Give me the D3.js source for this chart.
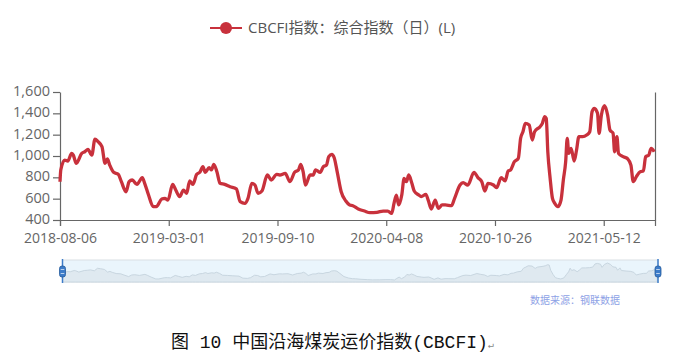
<!DOCTYPE html>
<html>
<head>
<meta charset="utf-8">
<script src="https://cdn.jsdelivr.net/npm/d3@7"></script>
<style>
  body { margin: 0; background: #fff; }
  text { font-family: "Open Sans", "Noto Sans CJK SC", sans-serif; }
</style>
</head>
<body>
<div id="chart"></div>
<script>
// Trading-day index of each sampled point, and the CBCFI value read there
const dayIndex = [0, 1, 6, 10, 15, 17, 21, 28, 32, 36, 41, 45, 49, 54, 58, 61, 64, 69, 75, 79,
  85, 89, 93, 99, 106, 109, 114, 120, 124, 131, 135, 139, 145, 149, 154, 159, 163, 167, 171, 176,
  180, 184, 187, 192, 195, 198, 202, 206, 212, 219, 227, 232, 238, 242, 247, 251, 255, 260, 267, 272,
  279, 283, 290, 296, 302, 307, 310, 313, 316, 322, 326, 329, 335, 339, 343, 346, 350, 353, 357, 362,
  368, 373, 377, 384, 392, 399, 408, 416, 422, 427, 430, 433, 436, 440, 443, 446, 449, 453, 456, 462,
  465, 471, 474, 478, 483, 487, 492, 496, 504, 508, 515, 519, 525, 533, 538, 543, 547, 551, 558, 562,
  568, 573, 577, 580, 585, 590, 593, 596, 599, 604, 608, 611, 618, 621, 624, 626, 628, 631, 634, 637,
  641, 645, 648, 651, 653, 655, 658, 662, 665, 668, 673, 678, 682, 685, 688, 692, 694, 697, 701, 705,
  708, 712, 714, 717, 719, 725, 731, 735, 738, 742, 747, 751, 754, 758, 761, 765];
const cbcfi = [759, 869, 962, 953, 1025, 1010, 931, 1025, 1040, 1062, 1009, 1159, 1134, 1087, 931, 972, 915, 847, 828, 759,
  665, 759, 775, 734, 797, 744, 634, 525, 525, 597, 603, 587, 734, 681, 619, 681, 650, 766, 734, 828,
  847, 900, 847, 891, 869, 922, 853, 744, 734, 712, 691, 572, 556, 603, 744, 728, 650, 672, 822, 775,
  828, 822, 837, 759, 847, 869, 922, 853, 728, 822, 822, 869, 847, 900, 915, 994, 1016, 984, 847, 665,
  578, 541, 534, 503, 484, 469, 472, 484, 484, 462, 556, 634, 541, 634, 791, 759, 822, 744, 672, 634,
  619, 640, 587, 503, 587, 509, 541, 541, 534, 603, 728, 750, 728, 847, 797, 759, 672, 744, 728, 703,
  797, 766, 859, 869, 947, 978, 1166, 1228, 1306, 1290, 1150, 1228, 1275, 1306, 1369, 1353, 1040, 791, 603, 556,
  525, 587, 775, 947, 1166, 1025, 1072, 953, 1056, 1181, 1181, 1197, 1228, 1416, 1447, 1400, 1213, 1384, 1472, 1384,
  1244, 1213, 1040, 1181, 1025, 994, 972, 915, 759, 806, 853, 859, 994, 1009, 1072, 1040];
const lastDay = 766;

// x-axis labels and the trading-day index they sit on
const tickDays = [0, 140, 280, 420, 560, 700];
const tickLabels = ["2018-08-06", "2019-03-01", "2019-09-10", "2020-04-08", "2020-10-26", "2021-05-12"];
const yTicks = [400, 600, 800, 1000, 1200, 1400, 1600];

const legendLabel = "CBCFI指数：综合指数（日）(L)";
const sourceLabel = "数据来源：钢联数据";
const captionLabel = "图 10 中国沿海煤炭运价指数(CBCFI)";

const data = dayIndex.map((d, i) => ({ day: d, value: cbcfi[i] }));

const W = 681, H = 359;
const plot = { left: 60, right: 655, top: 92, bottom: 220 };
const red = "#c8313c";

const svg = d3.select("#chart").append("svg")
  .attr("width", W)
  .attr("height", H);

// Scales
const x = d3.scaleLinear().domain([0, lastDay]).range([plot.left, plot.right]);
const y = d3.scaleLinear().domain([400, 1600]).range([plot.bottom, plot.top]);

// Axes
const yAxis = svg.append("g")
  .attr("transform", `translate(${plot.left},0)`)
  .call(d3.axisLeft(y).tickValues(yTicks).tickFormat(d3.format(",")).tickSize(7).tickSizeOuter(0).tickPadding(3));
yAxis.selectAll(".tick text").style("font-size", "14.5px").attr("dy", "0.25em");

svg.append("g")
  .attr("transform", `translate(${plot.right},0)`)
  .call(d3.axisRight(y).tickValues([]).tickSizeOuter(0));

const xAxis = svg.append("g")
  .attr("transform", `translate(0,${plot.bottom})`)
  .call(d3.axisBottom(x).tickValues(tickDays).tickFormat((d, i) => tickLabels[i]).tickSize(6).tickSizeOuter(6).tickPadding(7));
xAxis.selectAll(".tick text").style("font-size", "14px");

svg.selectAll(".domain, .tick line").attr("stroke", "#666").attr("stroke-width", 1.2);
svg.selectAll(".tick text").attr("fill", "#666");

// The line
const line = d3.line().x(d => x(d.day)).y(d => y(d.value)).curve(d3.curveMonotoneX);
svg.append("path")
  .datum(data)
  .attr("fill", "none")
  .attr("stroke", red)
  .attr("stroke-width", 3.3)
  .attr("stroke-linejoin", "round")
  .attr("d", line);

// Legend
const legend = svg.append("g");
legend.append("line")
  .attr("x1", 210).attr("x2", 242).attr("y1", 28).attr("y2", 28)
  .attr("stroke", red).attr("stroke-width", 2);
legend.append("circle")
  .attr("cx", 226).attr("cy", 28).attr("r", 6)
  .attr("fill", red);
legend.append("text")
  .attr("x", 248).attr("y", 28)
  .attr("dy", "0.35em")
  .attr("fill", "#555")
  .style("font-size", "15px")
  .text(legendLabel);

// Data zoom slider with data shadow
const slider = { left: 62.5, right: 658, top: 260, bottom: 282 };
const sx = d3.scaleLinear().domain([0, lastDay]).range([slider.left, slider.right]);
const sy = d3.scaleLinear().domain(d3.extent(cbcfi)).range([slider.bottom - 2, slider.top + 3]);

svg.append("rect")
  .attr("x", slider.left).attr("y", slider.top)
  .attr("width", slider.right - slider.left).attr("height", slider.bottom - slider.top)
  .attr("fill", "#eaf5fc").attr("stroke", "#d9dfe4");

svg.append("path")
  .datum(data)
  .attr("fill", "#dfe9f0")
  .attr("stroke", "#c8d6e0")
  .attr("stroke-width", 1)
  .attr("d", d3.area().x(d => sx(d.day)).y0(slider.bottom).y1(d => sy(d.value)));

[slider.left, slider.right].forEach(hx => {
  const h = svg.append("g");
  h.append("line")
    .attr("x1", hx).attr("x2", hx).attr("y1", slider.top - 1).attr("y2", slider.bottom + 1)
    .attr("stroke", "#3d7cc9").attr("stroke-width", 1.5);
  h.append("rect")
    .attr("x", hx - 3).attr("y", 266).attr("width", 6).attr("height", 11).attr("rx", 2.5)
    .attr("fill", "#3d7cc9").attr("stroke", "#255a9c").attr("stroke-width", 0.8);
  [269.5, 273.5].forEach(gy => h.append("line")
    .attr("x1", hx - 1.8).attr("x2", hx + 1.8).attr("y1", gy).attr("y2", gy)
    .attr("stroke", "#dbe9f8").attr("stroke-width", 0.8));
});

// Source note and caption
svg.append("text")
  .attr("x", 620).attr("y", 304)
  .attr("text-anchor", "end")
  .attr("fill", "#8ea2e6")
  .style("font-size", "10px")
  .text(sourceLabel);

const caption = svg.append("text")
  .attr("x", 171).attr("y", 348)
  .attr("fill", "#111")
  .style("font-family", "'Liberation Mono', 'Noto Sans CJK SC', monospace")
  .style("font-size", "18px")
  .text(captionLabel);
caption.append("tspan")
  .attr("fill", "#888")
  .style("font-size", "10px")
  .text("↵");
</script>
</body>
</html>
